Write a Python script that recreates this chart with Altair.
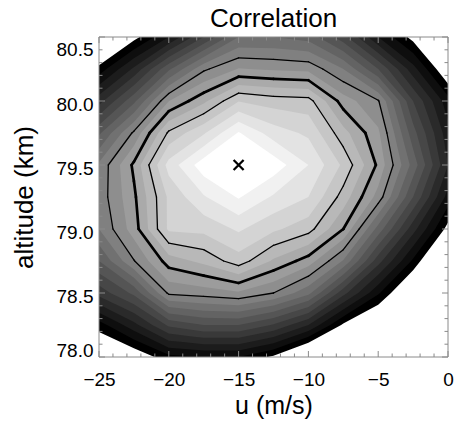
import altair as alt
import pandas as pd

# ---- data -----------------------------------------------------------------
u_grid = [-25.0, -22.5, -20.0, -17.5, -15.0, -12.5, -10.0, -7.5, -5.0, -2.5, 0.0]
alt_grid = [78.0, 78.25, 78.5, 78.75, 79.0, 79.25, 79.5, 79.75, 80.0, 80.25, 80.5]

# correlation along u, one row per altitude (bottom to top)
corr_78_00 = [-0.09, -0.05, 0.035, 0.05, 0.05, -0.01, -0.12, -0.20, -0.25, -0.40, -0.60]
corr_78_25 = [0.025, 0.133, 0.26, 0.30, 0.30, 0.245, 0.15, -0.01, -0.10, -0.25, -0.45]
corr_78_50 = [0.22, 0.313, 0.51, 0.524, 0.542, 0.50, 0.415, 0.218, 0.058, -0.10, -0.30]
corr_78_75 = [0.35, 0.497, 0.624, 0.664, 0.727, 0.642, 0.577, 0.445, 0.22, 0.04, -0.15]
corr_79_00 = [0.45, 0.575, 0.76, 0.765, 0.808, 0.76, 0.72, 0.60, 0.38, 0.17, -0.02]
corr_79_25 = [0.47, 0.59, 0.76, 0.845, 0.905, 0.843, 0.80, 0.679, 0.53, 0.30, 0.08]
corr_79_50 = [0.46, 0.61, 0.82, 0.93, 0.96, 0.93, 0.85, 0.74, 0.59, 0.38, 0.15]
corr_79_75 = [0.34, 0.51, 0.71, 0.794, 0.905, 0.825, 0.79, 0.669, 0.56, 0.32, 0.12]
corr_80_00 = [0.18, 0.337, 0.549, 0.638, 0.748, 0.727, 0.72, 0.576, 0.505, 0.25, 0.07]
corr_80_25 = [0.02, 0.16, 0.34, 0.49, 0.553, 0.543, 0.535, 0.45, 0.30, 0.12, -0.06]
corr_80_50 = [-0.15, -0.02, 0.10, 0.25, 0.40, 0.40, 0.38, 0.27, 0.10, -0.02, -0.25]
corr_rows = [corr_78_00, corr_78_25, corr_78_50, corr_78_75, corr_79_00, corr_79_25,
             corr_79_50, corr_79_75, corr_80_00, corr_80_25, corr_80_50]

fill_levels = [0.0, 0.05, 0.10, 0.15, 0.20, 0.25, 0.30, 0.35, 0.40, 0.45,
               0.50, 0.55, 0.60, 0.65, 0.70, 0.75, 0.80, 0.85, 0.90]
thin_line_levels = [0.5, 0.7]
thick_line_levels = [0.6]

peak_u = [-15.0]
peak_alt = [79.5]

x_major = [-25, -20, -15, -10, -5, 0]
x_minor = [-24, -23, -22, -21, -19, -18, -17, -16, -14, -13, -12, -11,
           -9, -8, -7, -6, -4, -3, -2, -1]
y_major = [78.0, 78.5, 79.0, 79.5, 80.0, 80.5]
y_minor = [78.1, 78.2, 78.3, 78.4, 78.6, 78.7, 78.8, 78.9, 79.1, 79.2, 79.3, 79.4,
           79.6, 79.7, 79.8, 79.9, 80.1, 80.2, 80.3, 80.4]

# ---- geometry helpers (marching squares on the grid) -----------------------
EPS = 1e-9


def cell_corners(i, j):
    return [(u_grid[i], alt_grid[j], corr_rows[j][i]),
            (u_grid[i + 1], alt_grid[j], corr_rows[j][i + 1]),
            (u_grid[i + 1], alt_grid[j + 1], corr_rows[j + 1][i + 1]),
            (u_grid[i], alt_grid[j + 1], corr_rows[j + 1][i])]


def cell_polygon(corners, c):
    poly = []
    for a in range(4):
        x1, y1, f1 = corners[a]
        x2, y2, f2 = corners[(a + 1) % 4]
        if f1 >= c:
            poly.append((x1, y1))
        if (f1 >= c) != (f2 >= c):
            t = (c - f1) / (f2 - f1)
            poly.append((x1 + t * (x2 - x1), y1 + t * (y2 - y1)))
    return poly


def vertical_extent(poly, x):
    ys = []
    n = len(poly)
    for a in range(n):
        x1, y1 = poly[a]
        x2, y2 = poly[(a + 1) % n]
        if x < min(x1, x2) - EPS or x > max(x1, x2) + EPS:
            continue
        if abs(x2 - x1) < 1e-12:
            ys += [y1, y2]
        else:
            t = (x - x1) / (x2 - x1)
            ys.append(y1 + t * (y2 - y1))
    if not ys:
        return None
    return min(ys), max(ys)


def crossings(corners, c):
    pts = []
    for a in range(4):
        x1, y1, f1 = corners[a]
        x2, y2, f2 = corners[(a + 1) % 4]
        if (f1 >= c) != (f2 >= c):
            t = (c - f1) / (f2 - f1)
            pts.append((x1 + t * (x2 - x1), y1 + t * (y2 - y1)))
    return pts


def level_region(c):
    """Region corr >= c as one x-monotone band: rows of (u, lower, upper)."""
    polys = []
    for j in range(len(alt_grid) - 1):
        for i in range(len(u_grid) - 1):
            p = cell_polygon(cell_corners(i, j), c)
            if len(p) >= 3:
                polys.append(p)
    xs = []
    for x in sorted(pt[0] for p in polys for pt in p):
        if not xs or x - xs[-1] > 1e-7:
            xs.append(x)
    rows = []
    for x in xs:
        lo, hi = None, None
        for p in polys:
            if x < min(q[0] for q in p) - EPS or x > max(q[0] for q in p) + EPS:
                continue
            e = vertical_extent(p, x)
            if e is None:
                continue
            lo = e[0] if lo is None else min(lo, e[0])
            hi = e[1] if hi is None else max(hi, e[1])
        if lo is not None:
            rows.append({"u": x, "a0": lo, "a1": hi})
    return pd.DataFrame(rows)


def segments(levels_list):
    rows = []
    for c in levels_list:
        for j in range(len(alt_grid) - 1):
            for i in range(len(u_grid) - 1):
                pts = crossings(cell_corners(i, j), c)
                if len(pts) == 2:
                    rows.append({"u1": pts[0][0], "a1": pts[0][1], "u2": pts[1][0], "a2": pts[1][1]})
                elif len(pts) == 4:
                    rows.append({"u1": pts[0][0], "a1": pts[0][1], "u2": pts[1][0], "a2": pts[1][1]})
                    rows.append({"u1": pts[2][0], "a1": pts[2][1], "u2": pts[3][0], "a2": pts[3][1]})
    return pd.DataFrame(rows)


thin_df = segments(thin_line_levels)
thick_df = segments(thick_line_levels)

# ---- styling ---------------------------------------------------------------
W, H = 349, 320
FONT = "Liberation Sans"
FRAME = "#8a8a8a"
MAJ, MIN = 6, 3.5
n_lv = len(fill_levels)
grays = []
for k in range(n_lv):
    g = int(round(255 * k / (n_lv - 1)))
    grays.append("#{0:02x}{0:02x}{0:02x}".format(g))

xs_ = alt.Scale(domain=[-25, 0], nice=False, zero=False)
ys_ = alt.Scale(domain=[78.0, 80.5], nice=False, zero=False)

x_axis = alt.Axis(values=x_major, format="d", title="u (m/s)", ticks=False,
                  domain=False, grid=False, labelFont=FONT, labelFontSize=19,
                  labelColor="black", labelPadding=13, labelFlush=False,
                  titleFont=FONT, titleFontSize=25, titleFontWeight="normal",
                  titleColor="black", titleY=36)
y_axis = alt.Axis(values=y_major, format=".1f", title="altitude (km)", ticks=False,
                  domain=False, grid=False, labelFont=FONT, labelFontSize=19,
                  labelColor="black", labelPadding=6, labelFlush=True, labelOffset=3,
                  titleFont=FONT, titleFontSize=26, titleFontWeight="normal",
                  titleColor="black", titlePadding=19)


def X(field):
    return alt.X(field, scale=xs_)


def Y(field):
    return alt.Y(field, scale=ys_)


layers = []
# axis carrier (invisible); the other layers leave their axis unspecified
layers.append(
    alt.Chart(pd.DataFrame({"u": peak_u, "a": peak_alt}))
    .mark_point(opacity=0)
    .encode(x=alt.X("u:Q", scale=xs_, axis=x_axis), y=alt.Y("a:Q", scale=ys_, axis=y_axis))
)

for k, c in enumerate(fill_levels):
    reg = level_region(c)
    if reg.empty:
        continue
    layers.append(
        alt.Chart(reg).mark_area(fill=grays[k], interpolate="linear")
        .encode(x=X("u:Q"), y=Y("a0:Q"), y2="a1:Q")
    )

layers.append(
    alt.Chart(thin_df).mark_rule(color="black", strokeWidth=1.3, strokeCap="round")
    .encode(x=X("u1:Q"), y=Y("a1:Q"), x2="u2:Q", y2="a2:Q")
)
layers.append(
    alt.Chart(thick_df).mark_rule(color="black", strokeWidth=2.7, strokeCap="round")
    .encode(x=X("u1:Q"), y=Y("a1:Q"), x2="u2:Q", y2="a2:Q")
)
layers.append(
    alt.Chart(pd.DataFrame({"u": peak_u, "a": peak_alt}))
    .mark_point(shape="M-1,-1L1,1M-1,1L1,-1", size=100, filled=False, color="black",
                strokeWidth=2.3, opacity=1)
    .encode(x=X("u:Q"), y=Y("a:Q"))
)


def xticks(vals, length):
    d = pd.DataFrame({"v": vals})
    bottom = alt.Chart(d).mark_rule(color=FRAME, strokeWidth=1).encode(
        x=X("v:Q"), y=alt.value(H), y2=alt.value(H - length))
    top = alt.Chart(d).mark_rule(color=FRAME, strokeWidth=1).encode(
        x=X("v:Q"), y=alt.value(0), y2=alt.value(length))
    return [bottom, top]


def yticks(vals, length):
    d = pd.DataFrame({"v": vals})
    left = alt.Chart(d).mark_rule(color=FRAME, strokeWidth=1).encode(
        y=Y("v:Q"), x=alt.value(0), x2=alt.value(length))
    right = alt.Chart(d).mark_rule(color=FRAME, strokeWidth=1).encode(
        y=Y("v:Q"), x=alt.value(W), x2=alt.value(W - length))
    return [left, right]


layers += xticks(x_major, MAJ) + xticks(x_minor, MIN) + yticks(y_major, MAJ) + yticks(y_minor, MIN)

layers.append(
    alt.Chart(pd.DataFrame({"v": [0]})).mark_rect(fill=None, stroke=FRAME, strokeWidth=1)
    .encode(x=alt.value(0), x2=alt.value(W), y=alt.value(0), y2=alt.value(H))
)

chart = (
    alt.layer(*layers)
    .properties(
        width=W, height=H,
        title=alt.TitleParams("Correlation", font=FONT, fontSize=26, fontWeight="normal",
                              color="black", anchor="middle", offset=5),
        autosize="none",
        padding={"left": 99, "top": 37, "right": 7, "bottom": 64},
        background="white",
    )
    .configure_view(stroke=None)
)

chart.save("out.html", embed_options={"renderer": "svg", "actions": False})
